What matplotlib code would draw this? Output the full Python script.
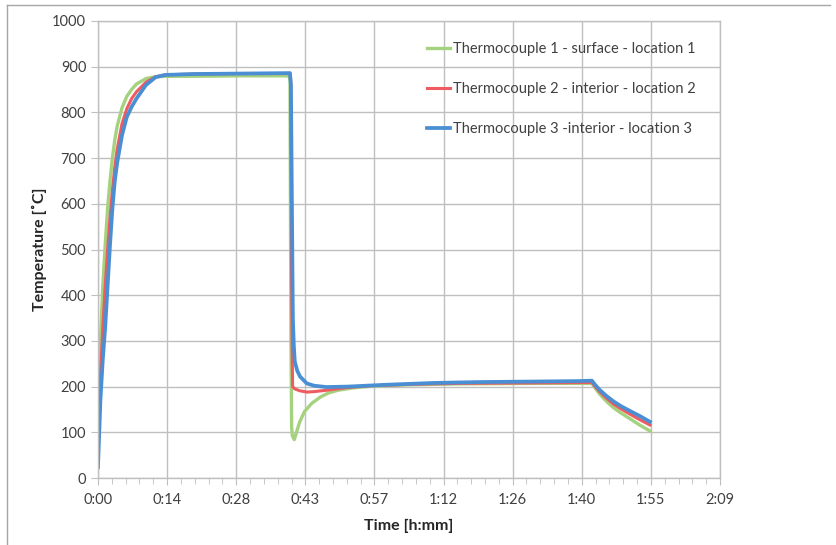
import matplotlib
matplotlib.use("Agg")
import matplotlib.pyplot as plt
from matplotlib.lines import Line2D
from matplotlib.ticker import MultipleLocator

plt.rcParams['font.family'] = ['Lato', 'DejaVu Sans']

# ---- data (time in minutes, temperature in °C) ----
labels = ["Thermocouple 1 - surface - location 1",
          "Thermocouple 2 - interior - location 2",
          "Thermocouple 3 -interior - location 3"]
colors = ["#A5D27E", "#EE5B60", "#4A8FD3"]

t1 = [0, 0.5, 1, 1.5, 2, 2.5, 3, 3.5, 4, 5, 6, 7, 8, 10, 12, 14, 20, 30, 39.8,
      40.0, 40.2, 40.35, 40.5, 40.9, 41.5, 42, 43, 44.5, 46.3, 48, 50, 53, 57, 65,
      75, 90, 102.9, 103.5, 104.5, 106, 107.5, 109, 110.8, 113, 115]
v1 = [130, 300, 420, 510, 590, 650, 700, 740, 770, 810, 835, 850, 862, 874, 878,
      879, 879, 880, 880,
      870, 300, 110, 92, 84, 105, 122, 145, 163, 177, 186, 192, 197, 201, 204,
      206, 207, 207, 198, 184, 167, 153, 142, 130, 115, 103]

t2 = [0, 0.5, 1, 1.5, 2, 2.5, 3, 3.5, 4, 5, 6, 7, 8, 10, 12, 14, 20, 30, 40.0,
      40.15, 40.3, 40.45, 40.55, 41, 42, 43.5, 45, 47.6, 52, 57, 65, 75, 90,
      102.9, 103.5, 104.5, 106, 107.5, 109, 110.8, 113, 115]
v2 = [140, 220, 330, 420, 500, 570, 630, 680, 720, 775, 808, 830, 845, 866, 878,
      882, 884, 885, 885,
      870, 500, 280, 200, 195, 191, 188, 189, 192, 198, 202, 205, 207, 208,
      209, 201, 189, 174, 161, 151, 140, 127, 116]

t3 = [0, 0.5, 1, 1.5, 2, 2.5, 3, 3.5, 4, 5, 6, 7, 8, 10, 12, 14, 20, 30, 40.0,
      40.2, 40.4, 40.6, 40.8, 41.0, 41.5, 42.1, 43.5, 45, 47.6, 52, 60, 70, 80,
      90, 100, 102.9, 103.5, 104.5, 106, 107.5, 109, 110.8, 113, 115]
v3 = [24, 170, 260, 330, 420, 510, 590, 650, 690, 750, 790, 812, 830, 860, 877,
      882, 884, 885, 886,
      860, 600, 350, 290, 255, 235, 222, 207, 202, 199, 200, 204, 208, 210,
      211, 212, 213, 205, 193, 179, 167, 157, 147, 135, 123]

x_ticks = [0, 14.4, 28.8, 43.2, 57.6, 72.0, 86.4, 100.8, 115.2, 129.6]
x_ticklabels = ["0:00", "0:14", "0:28", "0:43", "0:57", "1:12", "1:26", "1:40",
                "1:55", "2:09"]
y_ticks = [0, 100, 200, 300, 400, 500, 600, 700, 800, 900, 1000]

# ---- figure ----
W, H = 837, 545
fig = plt.figure(figsize=(W / 100, H / 100), dpi=100)
ax = fig.add_axes([98 / W, 1 - 478 / H, (720 - 98) / W, (478 - 21) / H])

series = [(t1, v1), (t2, v2), (t3, v3)]
widths = [2.4, 2.2, 2.7]
for (t, v), c, lab, lw in zip(series, colors, labels, widths):
    ax.plot(t, v, color=c, lw=lw, label=lab, solid_joinstyle='round')

ax.set_xlim(0, 129.6)
ax.set_ylim(0, 1000)
ax.set_xticks(x_ticks)
ax.set_xticklabels(x_ticklabels)
ax.set_yticks(y_ticks)
ax.xaxis.set_minor_locator(MultipleLocator(14.4 / 5))

gridc = "#BFBFBF"
ax.grid(True, which='major', color=gridc, lw=1.0)
ax.set_axisbelow(True)
for s in ax.spines.values():
    s.set_color(gridc)
    s.set_linewidth(1.0)
ax.tick_params(axis='both', which='major', length=5, color=gridc,
               labelsize=10.5, labelcolor="#404040")
ax.tick_params(axis='x', which='minor', length=4, color=gridc)
ax.tick_params(axis='x', which='major', pad=6)

ax.set_xlabel("Time [h:mm]", fontsize=11.5, fontweight='bold', color="#262626",
              labelpad=8)
ax.set_ylabel("Temperature [˚C]", fontsize=11.5, fontweight='bold',
              color="#262626", labelpad=4)

leg = fig.legend(loc='upper left', bbox_to_anchor=(427 / W, 1 - 42 / H),
                 frameon=False, fontsize=10.5, handlelength=1.6,
                 handletextpad=0.2, labelspacing=1.8, borderpad=0,
                 borderaxespad=0)
for txt in leg.get_texts():
    txt.set_color("#404040")

# outer chart border
bc = "#A6A6A6"
fig.add_artist(Line2D([7 / W, 830 / W], [1 - 5 / H, 1 - 5 / H],
                      transform=fig.transFigure, color=bc, lw=1.0))
fig.add_artist(Line2D([7 / W, 7 / W], [0, 1 - 5 / H],
                      transform=fig.transFigure, color=bc, lw=1.0))

fig.savefig("out.png", dpi=100)
